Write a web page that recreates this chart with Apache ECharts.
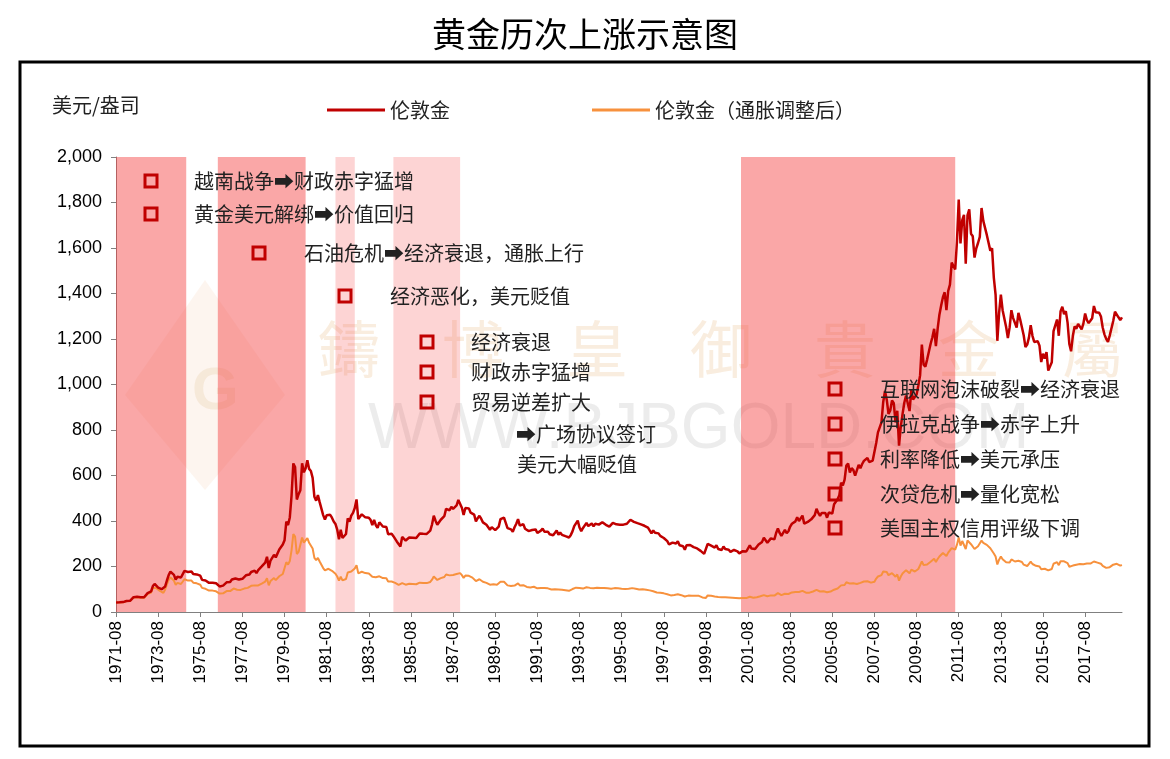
<!DOCTYPE html>
<html>
<head>
<meta charset="utf-8">
<title>黄金历次上涨示意图</title>
<script src="https://cdn.jsdelivr.net/npm/echarts@6/dist/echarts.min.js"></script>
<style>
  html, body { margin: 0; padding: 0; background: #fff; }
  #chart { width: 1170px; height: 759px; }
</style>
</head>
<body>
<div id="chart"></div>
<script>
// 伦敦金 月末价格（美元/盎司），1971-08 ~ 2019-05
var londonGold = [
  42.3, 42.6, 42.5, 43.0, 43.6,
  46.0, 48.4, 48.3, 49.4, 57.2, 65.1, 67.3, 67.0, 65.1, 64.7, 62.9, 64.9,
  65.1, 83.0, 90.0, 90.5, 114.0, 123.3, 115.0, 106.8, 103.0, 100.1, 94.8, 112.3,
  138.5, 162.3, 177.3, 172.2, 163.3, 143.0, 154.8, 154.0, 151.8, 158.8, 181.0, 186.5,
  175.8, 181.8, 178.2, 167.0, 167.0, 165.2, 166.7, 159.8, 141.3, 142.9, 138.2, 140.3,
  128.2, 132.3, 128.8, 127.5, 126.3, 123.8, 112.5, 104.0, 116.0, 123.2, 130.3, 134.5,
  132.3, 142.8, 148.9, 147.3, 143.0, 143.0, 144.1, 146.0, 154.1, 161.5, 160.1, 165.0,
  175.9, 182.3, 181.6, 170.9, 184.2, 183.1, 200.3, 208.7, 217.1, 242.6, 193.4, 226.0,
  233.7, 251.3, 240.1, 245.3, 274.6, 277.5, 296.5, 315.1, 397.3, 382.0, 415.7, 512.0,
  653.0, 637.0, 494.5, 518.0, 535.5, 653.5, 614.3, 631.3, 666.8, 629.0, 619.8, 589.8,
  506.5, 489.0, 513.8, 482.8, 479.3, 426.0, 406.0, 425.0, 428.8, 427.0, 414.5, 397.5,
  387.0, 362.6, 320.0, 361.3, 325.3, 317.5, 342.9, 411.5, 397.0, 423.3, 436.0, 456.9,
  495.0, 408.5, 414.8, 429.3, 437.5, 416.0, 422.0, 414.3, 405.0, 382.0, 405.0, 381.5,
  370.0, 394.3, 394.5, 375.8, 384.3, 373.8, 342.0, 348.3, 343.8, 333.5, 329.0, 309.0,
  306.7, 287.8, 329.8, 321.4, 314.0, 317.8, 327.5, 333.5, 326.5, 325.1, 325.3, 326.8,
  345.5, 338.4, 344.0, 345.8, 343.2, 345.8, 357.5, 384.7, 423.2, 401.0, 383.5, 390.9,
  405.5, 405.9, 421.0, 453.3, 451.0, 447.3, 462.5, 453.4, 459.5, 468.8, 492.5, 484.1,
  458.0, 426.2, 457.0, 449.0, 455.5, 436.6, 436.8, 427.8, 397.7, 412.4, 422.6, 410.2,
  394.0, 387.0, 383.2, 377.6, 361.8, 373.0, 368.3, 359.8, 366.5, 375.3, 408.2, 401.0,
  415.1, 407.7, 368.5, 367.8, 363.1, 352.2, 372.3, 387.8, 408.4, 379.5, 384.9, 386.2,
  366.0, 362.7, 355.7, 357.8, 360.4, 368.4, 363.0, 347.4, 354.9, 357.5, 366.3, 353.2,
  354.1, 353.1, 341.7, 336.4, 337.5, 343.4, 357.9, 340.0, 349.0, 339.3, 334.2, 333.3,
  330.5, 327.6, 337.8, 354.3, 377.5, 378.5, 401.8, 371.6, 355.5, 369.6, 370.9, 391.8,
  377.9, 381.6, 389.2, 376.5, 387.6, 388.3, 384.0, 385.8, 394.9, 389.1, 383.1, 383.3,
  374.9, 376.4, 392.0, 389.8, 385.3, 387.1, 383.4, 382.4, 384.0, 382.7, 387.8, 387.0,
  405.6, 400.7, 396.4, 391.3, 390.6, 382.0, 385.3, 386.5, 379.0, 379.5, 371.3, 369.3,
  345.5, 358.6, 348.2, 340.2, 345.6, 334.6, 326.4, 325.4, 332.1, 311.4, 296.8, 290.2,
  304.9, 297.4, 301.0, 310.7, 293.6, 296.3, 288.9, 273.4, 293.9, 292.3, 294.7, 287.8,
  285.4, 287.1, 279.5, 286.6, 268.6, 261.0, 255.6, 254.8, 299.0, 299.1, 291.4, 290.3,
  283.3, 293.7, 276.8, 275.1, 272.3, 288.2, 276.8, 277.0, 273.7, 264.5, 269.1, 272.7,
  264.5, 266.7, 257.7, 263.2, 267.5, 270.6, 265.9, 273.0, 293.1, 278.8, 275.5, 276.5,
  282.3, 296.9, 301.4, 308.2, 326.6, 318.5, 304.7, 312.8, 323.7, 316.9, 319.1, 347.2,
  367.5, 347.5, 334.9, 336.8, 361.4, 346.0, 354.8, 375.6, 388.0, 386.3, 398.4, 416.3,
  399.8, 395.9, 423.7, 388.5, 393.3, 395.8, 391.4, 407.3, 415.7, 425.6, 453.4, 435.6,
  422.2, 435.5, 427.5, 435.7, 414.5, 437.1, 429.0, 433.3, 473.3, 470.8, 495.7, 513.0,
  568.8, 556.0, 582.0, 644.0, 653.0, 613.5, 632.5, 623.5, 599.3, 603.8, 646.7, 632.0,
  650.5, 664.2, 661.8, 677.0, 659.1, 650.5, 665.5, 672.0, 743.0, 789.5, 783.5, 833.8,
  923.3, 971.5, 933.5, 871.0, 885.8, 930.3, 918.0, 833.0, 884.5, 730.8, 814.5, 869.8,
  919.5, 952.0, 916.5, 883.3, 975.5, 934.5, 939.0, 955.5, 995.8, 1040.0, 1175.8, 1087.5,
  1078.5, 1109.5, 1115.5, 1179.3, 1207.5, 1244.5, 1169.0, 1246.0, 1307.0, 1346.8, 1383.5, 1405.5,
  1327.0, 1411.0, 1439.0, 1535.5, 1536.5, 1505.5, 1628.5, 1813.5, 1620.0, 1722.0, 1746.0, 1531.0,
  1744.0, 1770.0, 1662.5, 1651.3, 1558.0, 1598.5, 1622.0, 1648.5, 1776.0, 1719.0, 1726.0, 1657.5,
  1664.8, 1588.5, 1598.3, 1469.0, 1394.5, 1192.0, 1314.5, 1394.8, 1326.5, 1324.0, 1253.0, 1204.5,
  1251.0, 1326.5, 1291.8, 1288.5, 1250.5, 1315.0, 1285.3, 1285.8, 1216.5, 1164.3, 1175.5, 1206.0,
  1260.3, 1214.0, 1187.0, 1180.3, 1190.0, 1171.0, 1098.4, 1135.0, 1114.0, 1142.4, 1061.1, 1060.0,
  1097.4, 1234.9, 1237.0, 1285.7, 1214.3, 1320.8, 1342.0, 1309.3, 1322.5, 1272.0, 1178.1, 1145.9,
  1212.8, 1255.6, 1244.9, 1266.5, 1266.2, 1242.3, 1267.6, 1311.8, 1283.1, 1270.2, 1280.2, 1291.0,
  1345.2, 1317.9, 1323.9, 1315.1, 1298.6, 1250.5, 1220.5, 1200.4, 1187.3, 1215.0, 1222.4, 1279.0,
  1319.8, 1319.2, 1295.4, 1283.6, 1295.3
];

// 伦敦金（通胀调整后，1971-08 美元）
var londonGoldReal = [
  42, 43, 42, 43, 43,
  46, 48, 48, 49, 56, 64, 66, 65, 63, 63, 61, 62,
  62, 79, 85, 85, 106, 114, 105, 97, 93, 90, 84, 99,
  121, 141, 152, 147, 138, 119, 128, 126, 123, 127, 144, 147,
  138, 142, 138, 129, 128, 126, 126, 120, 106, 106, 102, 103,
  94, 97, 94, 92, 91, 89, 81, 74, 82, 87, 92, 94,
  92, 99, 103, 101, 98, 97, 97, 98, 103, 107, 106, 108,
  115, 118, 117, 109, 117, 115, 125, 129, 134, 148, 117, 136,
  140, 149, 140, 142, 157, 158, 167, 175, 219, 208, 224, 272,
  342, 331, 255, 264, 271, 327, 305, 311, 325, 304, 296, 279,
  238, 228, 238, 222, 219, 193, 183, 190, 190, 188, 181, 173,
  168, 156, 138, 155, 139, 135, 145, 174, 168, 178, 183, 191,
  206, 170, 172, 177, 180, 171, 173, 169, 164, 155, 163, 153,
  148, 157, 157, 149, 152, 148, 134, 137, 134, 130, 128, 120,
  119, 111, 127, 123, 120, 121, 124, 126, 123, 122, 122, 122,
  129, 126, 128, 128, 127, 128, 132, 142, 156, 148, 141, 144,
  149, 149, 154, 165, 163, 161, 166, 163, 164, 167, 175, 171,
  162, 150, 160, 157, 159, 151, 151, 147, 136, 141, 144, 139,
  133, 130, 128, 126, 120, 123, 122, 118, 120, 122, 133, 130,
  133, 130, 117, 116, 114, 110, 116, 121, 126, 117, 118, 118,
  111, 110, 107, 108, 108, 111, 109, 104, 106, 106, 109, 105,
  104, 104, 100, 99, 99, 100, 104, 99, 101, 98, 96, 96,
  95, 93, 96, 101, 107, 107, 113, 105, 100, 103, 104, 109,
  105, 106, 108, 104, 107, 107, 105, 106, 108, 106, 104, 104,
  101, 102, 105, 105, 103, 104, 102, 102, 102, 101, 103, 102,
  107, 105, 104, 102, 102, 99, 100, 100, 98, 98, 95, 95,
  88, 91, 88, 86, 88, 85, 83, 82, 84, 78, 75, 73,
  77, 75, 75, 78, 73, 74, 72, 68, 73, 72, 73, 71,
  70, 71, 69, 71, 66, 64, 62, 62, 73, 73, 71, 70,
  68, 70, 66, 65, 65, 68, 65, 65, 64, 62, 63, 64,
  62, 62, 60, 61, 62, 62, 61, 63, 67, 64, 63, 64,
  65, 68, 69, 70, 74, 73, 69, 71, 73, 72, 72, 78,
  83, 77, 74, 75, 80, 77, 79, 83, 86, 85, 88, 92,
  88, 87, 93, 85, 85, 86, 85, 88, 90, 91, 97, 93,
  90, 93, 91, 92, 87, 92, 90, 91, 98, 97, 103, 106,
  117, 114, 119, 131, 133, 125, 128, 126, 121, 123, 131, 128,
  131, 134, 132, 135, 131, 129, 132, 133, 147, 156, 153, 162,
  178, 185, 176, 162, 164, 171, 170, 155, 165, 138, 156, 169,
  177, 184, 176, 170, 186, 178, 178, 182, 189, 197, 222, 206,
  203, 209, 209, 221, 226, 234, 220, 233, 244, 252, 259, 261,
  246, 261, 265, 281, 280, 274, 296, 328, 292, 312, 316, 277,
  314, 319, 298, 294, 277, 285, 289, 293, 314, 304, 307, 295,
  295, 280, 280, 257, 244, 209, 230, 244, 232, 232, 219, 211,
  218, 231, 223, 222, 215, 225, 220, 220, 208, 200, 202, 209,
  221, 211, 205, 203, 205, 200, 188, 194, 190, 195, 183, 182,
  189, 212, 212, 219, 206, 223, 228, 223, 224, 215, 199, 194,
  204, 211, 208, 211, 211, 206, 210, 218, 213, 211, 213, 214,
  222, 216, 217, 214, 212, 203, 198, 194, 192, 197, 199, 208,
  214, 212, 207, 204, 206
];

// 月份类目：从 1971-08 起，与数据一一对应
var months = [];
for (var i = 0; i < londonGold.length; i++) {
  var t = 1971 * 12 + 7 + i;
  var mm = (t % 12) + 1;
  months.push(Math.floor(t / 12) + "-" + (mm < 10 ? "0" + mm : mm));
}

var yTicks = { min: 0, max: 2000, step: 200 };

// 上涨区间 [开始, 结束, 深/浅]
var risePeriods = [
  ["1971-08", "1974-12", "dark"],
  ["1976-06", "1980-08", "dark"],
  ["1982-01", "1982-12", "light"],
  ["1984-10", "1987-12", "light"],
  ["2001-04", "2011-06", "dark"]
];

// 注释文字
var noteTexts = [
  "越南战争➡财政赤字猛增",
  "黄金美元解绑➡价值回归",
  "石油危机➡经济衰退，通胀上行",
  "经济恶化，美元贬值",
  "经济衰退",
  "财政赤字猛增",
  "贸易逆差扩大",
  "➡广场协议签订",
  "美元大幅贬值",
  "互联网泡沫破裂➡经济衰退",
  "伊拉克战争➡赤字上升",
  "利率降低➡美元承压",
  "次贷危机➡量化宽松",
  "美国主权信用评级下调"
];

var CJK = '"Noto Sans CJK SC", "DejaVu Sans", sans-serif';
var LAT = '"Liberation Sans", Arial, sans-serif';

// 注释在画布上的位置：[方块中心x(null 为无方块), 文字左x, y]
var noteLayout = [
  [151, 194, 181], [151, 194, 214], [259, 304, 253], [345, 390, 296],
  [427, 471, 342], [427, 471, 372], [427, 471, 402], [null, 516, 434], [null, 517, 464],
  [835, 880, 389], [835, 880, 424], [835, 880, 459], [835, 880, 494], [835, 880, 528]
];

function buildGraphics() {
  var g = [];
  // 水印
  g.push({
    type: "polygon", silent: true, z: 0,
    shape: { points: [[125, 395], [205, 280], [285, 395], [205, 490]] },
    style: { fill: "rgba(240,180,130,0.13)" }
  });
  g.push({
    type: "text", silent: true, z: 0, left: 192, top: 362,
    style: { text: "G", font: "bold 60px " + LAT, fill: "rgba(230,200,160,0.28)" }
  });
  g.push({
    type: "text", silent: true, z: 0, left: 318, top: 318,
    style: { text: "鑄　博　皇　御　貴　金　屬", font: "62px " + CJK, fill: "rgba(232,185,130,0.26)" }
  });
  g.push({
    type: "text", silent: true, z: 0, left: 368, top: 398,
    style: { text: "WWW.BJBGOLD.COM", font: "64px " + LAT, fill: "rgba(120,120,120,0.14)" }
  });

  // 标题、单位
  g.push({
    type: "text", left: "center", top: 17,
    style: { text: "黄金历次上涨示意图", font: "34px " + CJK, fill: "#000" }
  });
  g.push({
    type: "text", left: 52, top: 95,
    style: { text: "美元/盎司", font: "20px " + CJK, fill: "#222" }
  });

  // 注释
  noteLayout.forEach(function (p, k) {
    if (p[0] !== null) {
      g.push({
        type: "rect", z: 20,
        shape: { x: p[0] - 6, y: p[2] - 6, width: 12, height: 12 },
        style: { fill: "none", stroke: "#C00000", lineWidth: 3 }
      });
    }
    g.push({
      type: "text", z: 20, x: p[1], y: p[2],
      style: { text: noteTexts[k], font: "20px " + CJK, fill: "#222", verticalAlign: "middle" }
    });
  });

  // 外框
  g.push({
    type: "rect", z: 30,
    shape: { x: 20, y: 62, width: 1129, height: 684 },
    style: { fill: "none", stroke: "#000", lineWidth: 3 }
  });
  return g;
}

var shadeColor = { dark: "rgba(245,60,60,0.45)", light: "rgba(245,60,60,0.22)" };

var chart = echarts.init(document.getElementById("chart"), null, { renderer: "canvas" });
chart.setOption({
  backgroundColor: "#fff",
  animation: false,
  textStyle: { fontFamily: LAT },
  grid: { left: 116, right: 48, top: 157, bottom: 147, containLabel: false },
  legend: {
    left: 322,
    top: 95,
    data: ["伦敦金", "伦敦金（通胀调整后）"],
    icon: "rect",
    itemWidth: 58,
    itemHeight: 3,
    itemGap: 142,
    textStyle: { fontFamily: CJK, fontSize: 20, color: "#222" }
  },
  xAxis: {
    type: "category",
    data: months,
    boundaryGap: false,
    axisLine: { lineStyle: { color: "#808080", width: 1 } },
    axisTick: { interval: 23, length: 5, lineStyle: { color: "#808080" } },
    axisLabel: {
      interval: 23,
      rotate: 90,
      margin: 9,
      color: "#000",
      fontSize: 17,
      fontFamily: LAT
    },
    splitLine: { show: false }
  },
  yAxis: {
    type: "value",
    min: yTicks.min,
    max: yTicks.max,
    interval: yTicks.step,
    axisLine: { show: true, lineStyle: { color: "#808080", width: 1 } },
    axisTick: { show: true, length: 5, lineStyle: { color: "#808080" } },
    axisLabel: {
      margin: 14,
      color: "#000",
      fontSize: 18,
      fontFamily: LAT,
      formatter: function (v) { return v.toLocaleString("en-US"); }
    },
    splitLine: { show: false }
  },
  graphic: buildGraphics(),
  series: [
    {
      name: "伦敦金（通胀调整后）",
      type: "line",
      data: londonGoldReal,
      symbol: "none",
      z: 3,
      lineStyle: { color: "#F7913D", width: 2 },
      itemStyle: { color: "#F7913D" }
    },
    {
      name: "伦敦金",
      type: "line",
      data: londonGold,
      symbol: "none",
      z: 4,
      lineStyle: { color: "#C00000", width: 2.5 },
      itemStyle: { color: "#C00000" }
    },
    {
      name: "上涨区间",
      type: "line",
      data: [],
      z: 10,
      silent: true,
      markArea: {
        silent: true,
        data: risePeriods.map(function (r) {
          return [
            { xAxis: r[0], itemStyle: { color: shadeColor[r[2]] } },
            { xAxis: r[1] }
          ];
        })
      }
    }
  ]
});
</script>
</body>
</html>
